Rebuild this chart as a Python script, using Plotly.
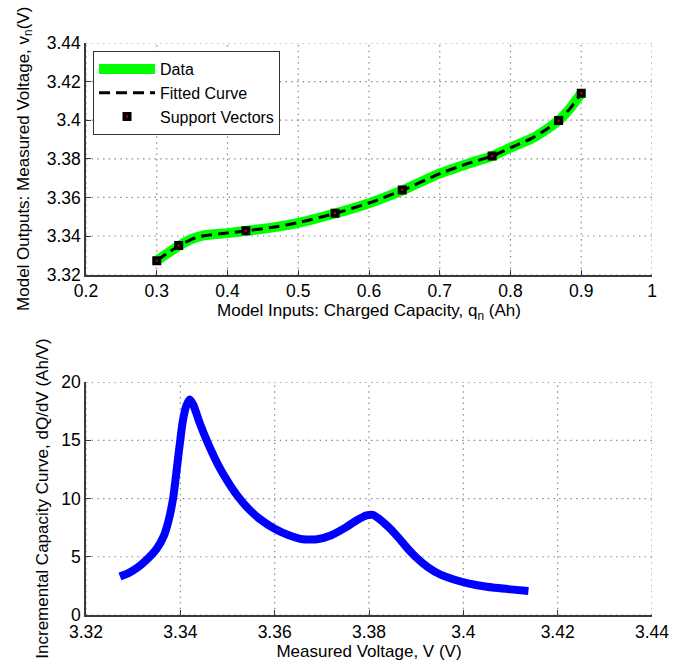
import plotly.graph_objects as go

# Charge curve: charged capacity q_n (Ah) vs measured voltage v_n (V)
q_data = [0.300, 0.315, 0.332, 0.350, 0.365, 0.400, 0.427, 0.460, 0.500, 0.553,
          0.600, 0.648, 0.700, 0.740, 0.774, 0.800, 0.830, 0.850, 0.868, 0.885, 0.900]
v_data = [3.3272, 3.3310, 3.3351, 3.3385, 3.3402, 3.3415, 3.3427, 3.3442, 3.3468, 3.3518,
          3.3570, 3.3638, 3.3724, 3.3775, 3.3814, 3.3858, 3.3905, 3.3950, 3.3998, 3.4065, 3.4139]

# SVR fitted curve on the same inputs
q_fit = q_data
v_fit = [3.3272, 3.3311, 3.3351, 3.3384, 3.3400, 3.3415, 3.3427, 3.3443, 3.3469, 3.3518,
         3.3571, 3.3638, 3.3723, 3.3776, 3.3814, 3.3857, 3.3906, 3.3951, 3.3998, 3.4064, 3.4139]

# Support vectors
q_sv = [0.300, 0.331, 0.426, 0.552, 0.647, 0.774, 0.868, 0.900]
v_sv = [3.3272, 3.3351, 3.3427, 3.3518, 3.3638, 3.3814, 3.3998, 3.4139]

# Incremental capacity curve dQ/dV (Ah/V) vs measured voltage V
v_ica = [3.3272, 3.3290, 3.3310, 3.3330, 3.3350, 3.3365, 3.3375, 3.3385, 3.3395, 3.3405,
         3.3413, 3.3420, 3.3428, 3.3440, 3.3460, 3.3480, 3.3500, 3.3520, 3.3545, 3.3570,
         3.3600, 3.3630, 3.3660, 3.3690, 3.3720, 3.3750, 3.3775, 3.3795, 3.3808, 3.3822,
         3.3840, 3.3860, 3.3880, 3.3900, 3.3925, 3.3950, 3.3980, 3.4010, 3.4050, 3.4100,
         3.4138]
dqdv = [3.3, 3.6, 4.1, 4.8, 5.7, 6.8, 8.1, 10.1, 13.4, 16.6,
        18.0, 18.5, 18.0, 16.6, 14.6, 12.9, 11.5, 10.3, 9.1, 8.2,
        7.4, 6.85, 6.5, 6.5, 6.85, 7.5, 8.15, 8.55, 8.6, 8.25,
        7.6, 6.75, 5.8, 4.95, 4.1, 3.5, 3.05, 2.72, 2.42, 2.2,
        2.06]

# Tick values and labels
q_ticks = [0.2, 0.3, 0.4, 0.5, 0.6, 0.7, 0.8, 0.9, 1.0]
q_ticktext = ["0.2", "0.3", "0.4", "0.5", "0.6", "0.7", "0.8", "0.9", "1"]
v_ticks = [3.32, 3.34, 3.36, 3.38, 3.40, 3.42, 3.44]
v_ticktext = ["3.32", "3.34", "3.36", "3.38", "3.4", "3.42", "3.44"]
ica_ticks = [0, 5, 10, 15, 20]
ica_ticktext = ["0", "5", "10", "15", "20"]

FONT = "Liberation Sans, Arial, Helvetica, sans-serif"
AXIS_COLOR = "#3a3a3a"
GRID_COLOR = "#8a8a8a"

fig = go.Figure()


def dotted_grid(xticks, yticks, xaxis, yaxis):
    """Dotted grid lines at every tick of a subplot, drawn beneath the data."""
    gx, gy = [], []
    for t in xticks:
        gx += [t, t, None]
        gy += [yticks[0], yticks[-1], None]
    for t in yticks:
        gx += [xticks[0], xticks[-1], None]
        gy += [t, t, None]
    fig.add_trace(go.Scatter(x=gx, y=gy, mode="lines", showlegend=False, hoverinfo="skip",
                             line=dict(color=GRID_COLOR, width=1.2, dash="1.5px,4.2px"),
                             xaxis=xaxis, yaxis=yaxis))


dotted_grid(q_ticks, v_ticks, "x", "y")
dotted_grid(v_ticks, ica_ticks, "x2", "y2")

fig.add_trace(go.Scatter(x=q_data, y=v_data, mode="lines", name="Data",
                         line=dict(color="#00ff00", width=10, shape="spline", smoothing=0.6),
                         xaxis="x", yaxis="y"))
fig.add_trace(go.Scatter(x=q_fit, y=v_fit, mode="lines", name="Fitted Curve",
                         line=dict(color="black", width=3, dash="11px,6px", shape="spline", smoothing=0.6),
                         xaxis="x", yaxis="y"))
fig.add_trace(go.Scatter(x=q_sv, y=v_sv, mode="markers", name="Support Vectors",
                         marker=dict(symbol="square", size=5.5, color="#d00000",
                                     line=dict(color="black", width=3.5)),
                         xaxis="x", yaxis="y"))
fig.add_trace(go.Scatter(x=v_ica, y=dqdv, mode="lines", showlegend=False,
                         line=dict(color="#0000ff", width=8, shape="spline", smoothing=0.5),
                         xaxis="x2", yaxis="y2"))


def axis_style(**extra):
    style = dict(
        showline=True, linecolor=AXIS_COLOR, linewidth=1.5, layer="above traces",
        ticks="inside", ticklen=5, tickcolor=AXIS_COLOR, tickwidth=1,
        showgrid=False, zeroline=False,
        tickfont=dict(family=FONT, size=17.5, color="black"),
        tickmode="array",
    )
    style.update(extra)
    return style


fig.update_layout(
    width=688, height=666,
    margin=dict(l=86, r=36, t=43, b=51),
    paper_bgcolor="white", plot_bgcolor="white",
    font=dict(family=FONT, color="black"),
    template="none",
    showlegend=True,
)
fig.update_layout(
    xaxis=axis_style(domain=[0, 1], anchor="y", range=[0.2, 1.0],
                     tickvals=q_ticks, ticktext=q_ticktext,
                     title=dict(text="Model Inputs: Charged Capacity, q<sub>n</sub> (Ah)", standoff=4,
                                font=dict(family=FONT, size=17, color="black"))),
    yaxis=axis_style(domain=[0.5951, 1.0], anchor="x", range=[3.32, 3.44],
                     tickvals=v_ticks, ticktext=v_ticktext,
                     title=dict(text="Model Outputs: Measured Voltage, v<sub>n</sub>(V)", standoff=13,
                                font=dict(family=FONT, size=17, color="black"))),
    xaxis2=axis_style(domain=[0, 1], anchor="y2", range=[3.32, 3.44],
                      tickvals=v_ticks, ticktext=v_ticktext,
                      title=dict(text="Measured Voltage, V (V)", standoff=4,
                                 font=dict(family=FONT, size=17, color="black"))),
    yaxis2=axis_style(domain=[0, 0.4072], anchor="x2", range=[0, 20],
                      tickvals=ica_ticks, ticktext=ica_ticktext,
                      title=dict(text="Incremental Capacity Curve, dQ/dV (Ah/V)", standoff=8,
                                 font=dict(family=FONT, size=17, color="black"))),
    legend=dict(x=0.0124, y=0.986, xanchor="left", yanchor="top",
                bgcolor="white", bordercolor="#333333", borderwidth=1,
                font=dict(family=FONT, size=16, color="black"),
                itemwidth=56, tracegroupgap=0),
)

fig.write_html("out.html")
